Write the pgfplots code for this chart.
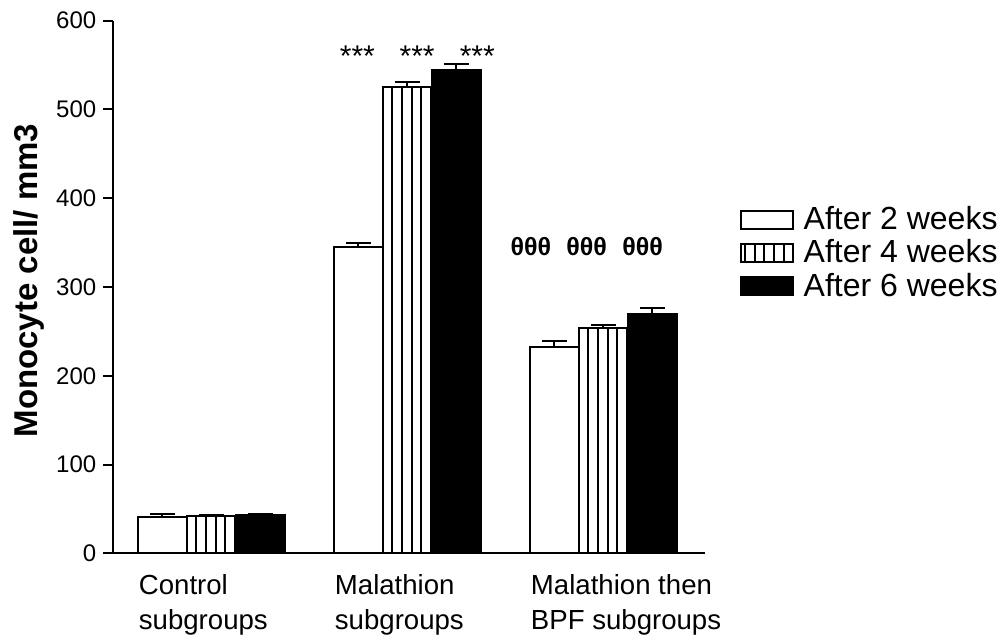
\documentclass[border=0pt]{standalone}
\usepackage{fontspec}
\setmainfont{Liberation Sans}
\usepackage{pgfplots}
\pgfplotsset{compat=1.18}
\usetikzlibrary{patterns.meta}
\pgfplotsset{eb/.style={error bars/y dir=plus, error bars/y explicit,
    error bars/error bar style={line width=1pt, black, solid},
    error bars/error mark options={rotate=90, mark size=6.2pt, line width=1pt, black, solid}}}
\begin{document}
\begin{tikzpicture}
\useasboundingbox (0,0) rectangle (500pt,320pt);
\begin{axis}[
  at={(56.65pt,43.35pt)}, anchor=south west,
  scale only axis, width=296pt, height=266.3pt,
  xmin=-0.5, xmax=2.52, ymin=0, ymax=600,
  axis lines*=left,
  axis line style={line width=1pt},
  ytick={0,100,...,600},
  tick align=outside,
  major tick length=5pt,
  tick style={line width=1pt, black},
  xtick={-0.38,0.62,1.62},
  xticklabels={Control\\subgroups, Malathion\\subgroups, Malathion then\\BPF subgroups},
  x tick style={draw=none},
  x tick label style={align=left, anchor=north west, font=\fontsize{13.8}{17.5}\selectfont, yshift=-2pt, xshift=-2.5pt},
  y tick label style={font=\fontsize{12}{14}\selectfont},
  /pgf/number format/assume math mode=true,
  ylabel={\textbf{Monocyte cell/ mm3}},
  ylabel style={at={(axis description cs:-0.143,0.512)}, anchor=center, font=\fontsize{16.5}{19}\selectfont},
  ybar=0pt, bar width=0.25,
  legend style={at={(axis description cs:1,0.564)}, anchor=west, xshift=14pt, draw=none, fill=none,
    font=\fontsize{16}{18}\selectfont, row sep=-0.5pt},
  legend cell align=left,
  legend image code/.code={\draw[#1, line width=1pt] (0pt,-4.5pt) rectangle (26pt,4.5pt); \path (29pt,0pt);},
]
\addplot[draw=black, fill=white, line width=1pt, eb] coordinates {(0,41.3) +- (0,3) (1,345) +- (0,4) (2,232) +- (0,7.5)};
\addplot[draw=black, line width=1pt, pattern={Lines[angle=90,distance=4.9pt,line width=1pt]}, eb] coordinates {(0,42.4) +- (0,1.3) (1,525.6) +- (0,5) (2,254) +- (0,3.7)};
\addplot[draw=black, fill=black, line width=1pt, eb] coordinates {(0,42.8) +- (0,1.3) (1,545) +- (0,6) (2,270) +- (0,6.7)};
\legend{After 2 weeks, After 4 weeks, After 6 weeks}
\node[font=\fontsize{15}{17}\selectfont] at (axis cs:0.745,560) {***};
\node[font=\fontsize{15}{17}\selectfont] at (axis cs:1.05,560) {***};
\node[font=\fontsize{15}{17}\selectfont] at (axis cs:1.357,560) {***};
\node[font=\bfseries\fontsize{12.5}{14}\selectfont] at (axis cs:1.63,345) {θθθ};
\node[font=\bfseries\fontsize{12.5}{14}\selectfont] at (axis cs:1.915,345) {θθθ};
\node[font=\bfseries\fontsize{12.5}{14}\selectfont] at (axis cs:2.20,345) {θθθ};
\end{axis}
\end{tikzpicture}
\end{document}
